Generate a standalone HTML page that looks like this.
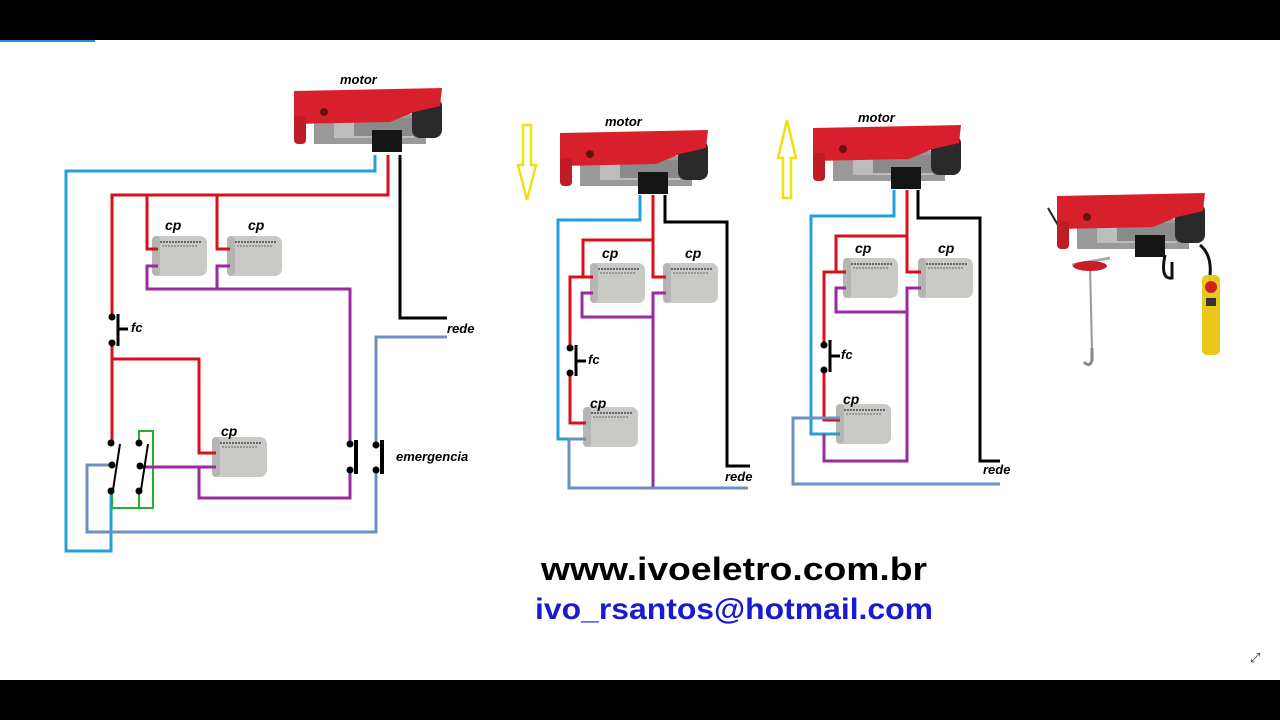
<!DOCTYPE html>
<html><head><meta charset="utf-8"><style>
html,body{margin:0;padding:0;background:#fff;}
body{width:1280px;height:720px;overflow:hidden;position:relative;font-family:"Liberation Sans",sans-serif;}
</style></head><body>
<svg width="1280" height="720" viewBox="0 0 1280 720" xmlns="http://www.w3.org/2000/svg" style="position:absolute;left:0;top:0">
<defs>
<g id="motor">
 <rect x="20" y="26" width="112" height="30" fill="#9a9a9a"/>
 <rect x="40" y="30" width="80" height="20" fill="#bdbdbd"/>
 <path d="M60 30 L120 30 L120 48 L60 48Z" fill="#8a8a8a"/>
 <rect x="118" y="10" width="30" height="40" rx="8" fill="#2a2a2a"/>
 <path d="M0 3 L148 0 L146 18 L120 24 L96 34 L0 36Z" fill="#d8202c"/>
 <rect x="0" y="28" width="12" height="28" rx="4" fill="#c01c26"/>
 <rect x="78" y="42" width="30" height="22" fill="#151515"/>
 <circle cx="30" cy="24" r="4" fill="#6a1010"/>
</g>
<g id="cap">
 <rect x="0" y="0" width="55" height="40" rx="7" fill="#c9c9c5"/>
 <rect x="0" y="0" width="8" height="40" rx="4" fill="#b5b5b1"/>
 <line x1="8" y1="6" x2="50" y2="6" stroke="#666" stroke-width="2" stroke-dasharray="2 1"/>
 <line x1="10" y1="10" x2="46" y2="10" stroke="#888" stroke-width="1.5" stroke-dasharray="2 1"/>
</g>
</defs>
<rect x="0" y="0" width="1280" height="40" fill="#000"/>
<rect x="0" y="680" width="1280" height="40" fill="#000"/>
<rect x="0" y="40" width="95" height="2" fill="#2a8ad8"/>

<g fill="none" stroke-width="3" stroke-linejoin="miter">
<!-- LEFT -->
<use href="#motor" x="294" y="88"/>
<use href="#cap" x="152" y="236"/>
<use href="#cap" x="227" y="236"/>
<use href="#cap" x="212" y="437"/>
<polyline points="375,155 375,171 66,171 66,551 111,551 111,491" stroke="#22a0d8"/>
<polyline points="388,155 388,195 112,195 112,318" stroke="#d8101c"/>
<polyline points="147,195 147,249 158,249" stroke="#d8101c"/>
<polyline points="217,195 217,249 230,249" stroke="#d8101c"/>
<polyline points="158,266 147,266 147,289 350,289 350,444" stroke="#9a2aa0"/>
<polyline points="230,266 217,266 217,289" stroke="#9a2aa0"/>
<polyline points="400,155 400,318 447,318" stroke="#000"/>
<polyline points="447,337 376,337 376,445" stroke="#6f8fc0"/>
<polyline points="376,470 376,532 87,532 87,465 112,465" stroke="#6f8fc0"/>
<polyline points="112,345 112,443" stroke="#d8101c"/>
<polyline points="112,359 199,359 199,453 216,453" stroke="#d8101c"/>
<polyline points="139,443 139,431 153,431 153,508 112,508 112,491" stroke="#22b030" stroke-width="2"/>
<polyline points="139,491 139,508" stroke="#22b030" stroke-width="2"/>
<polyline points="140,467 216,467" stroke="#9a2aa0"/>
<polyline points="199,467 199,498 350,498 350,470" stroke="#9a2aa0"/>
<g stroke="#000">
 <line x1="118" y1="314" x2="118" y2="346"/><line x1="118" y1="329" x2="128" y2="329"/>
 <line x1="356" y1="440" x2="356" y2="474" stroke-width="4"/><line x1="382" y1="440" x2="382" y2="474" stroke-width="4"/>
 <line x1="113" y1="490" x2="120" y2="444" stroke-width="2"/>
 <line x1="141" y1="490" x2="148" y2="444" stroke-width="2"/>
</g>

<!-- MIDDLE -->
<use href="#motor" x="560" y="130"/>
<use href="#cap" x="590" y="263"/>
<use href="#cap" x="663" y="263"/>
<use href="#cap" x="583" y="407"/>
<polyline points="640,195 640,220 558,220 558,439 585,439" stroke="#22a0d8"/>
<polyline points="653,195 653,240 583,240 583,277 593,277" stroke="#d8101c"/>
<polyline points="653,240 653,277 666,277" stroke="#d8101c"/>
<polyline points="593,277 570,277 570,348" stroke="#d8101c"/>
<polyline points="570,373 570,423 586,423" stroke="#d8101c"/>
<polyline points="593,293 582,293 582,317 653,317" stroke="#9a2aa0"/>
<polyline points="666,293 653,293 653,488" stroke="#9a2aa0"/>
<polyline points="665,195 665,222 727,222 727,466 750,466" stroke="#000"/>
<polyline points="586,439 569,439 569,488 748,488" stroke="#6f8fc0"/>
<g stroke="#000"><line x1="576" y1="345" x2="576" y2="376"/><line x1="576" y1="361" x2="586" y2="361"/></g>
<path d="M523 125 H531 V165 H536 L527 200 L518 165 H523Z" fill="#fff" stroke="#f0e010" stroke-width="2.5"/>

<!-- RIGHT -->
<use href="#motor" x="813" y="125"/>
<use href="#cap" x="843" y="258"/>
<use href="#cap" x="918" y="258"/>
<use href="#cap" x="836" y="404"/>
<polyline points="894,190 894,216 811,216 811,434 840,434" stroke="#22a0d8"/>
<polyline points="907,190 907,236 836,236 836,272 846,272" stroke="#d8101c"/>
<polyline points="907,236 907,272 921,272" stroke="#d8101c"/>
<polyline points="846,272 824,272 824,345" stroke="#d8101c"/>
<polyline points="824,370 824,420 840,420" stroke="#d8101c"/>
<polyline points="846,288 836,288 836,312 907,312" stroke="#9a2aa0"/>
<polyline points="921,288 907,288 907,461 824,461 824,434" stroke="#9a2aa0"/>
<polyline points="918,190 918,218 980,218 980,461 1000,461" stroke="#000"/>
<polyline points="840,418 793,418 793,484 1000,484" stroke="#6f8fc0"/>
<g stroke="#000"><line x1="830" y1="340" x2="830" y2="372"/><line x1="830" y1="356" x2="840" y2="356"/></g>
<path d="M783 198 H791 V158 H796 L787 120 L778 158 H783Z" fill="#fff" stroke="#f0e010" stroke-width="2.5"/>

<!-- FAR RIGHT hoist -->
<path d="M1048 208 L1062 232" stroke="#222" stroke-width="2"/>
<use href="#motor" x="1057" y="193"/>
<path d="M1165 255 Q1160 280 1172 278 L1172 262" stroke="#111" stroke-width="3"/>
<path d="M1200 245 Q1212 255 1210 275" stroke="#111" stroke-width="3"/>
<line x1="1090" y1="265" x2="1092" y2="350" stroke="#999" stroke-width="2"/>
<line x1="1072" y1="265" x2="1110" y2="258" stroke="#aaa" stroke-width="3"/>
<ellipse cx="1090" cy="266" rx="17" ry="5" fill="#c81c2c" stroke="none"/>
<path d="M1092 348 L1092 360 Q1090 368 1084 362" stroke="#888" stroke-width="3"/>
<rect x="1202" y="275" width="18" height="80" rx="5" fill="#e8c818" stroke="none"/>
<circle cx="1211" cy="287" r="6" fill="#d02020" stroke="none"/>
<rect x="1206" y="298" width="10" height="8" fill="#333" stroke="none"/>
</g>

<g font-family="Liberation Sans, sans-serif" font-weight="bold" font-style="italic" font-size="13" fill="#000">
<text x="340" y="84">motor</text>
<text x="605" y="126">motor</text>
<text x="858" y="122">motor</text>
<text x="165" y="230" font-size="14">cp</text>
<text x="248" y="230" font-size="14">cp</text>
<text x="221" y="436" font-size="14">cp</text>
<text x="602" y="258" font-size="14">cp</text>
<text x="685" y="258" font-size="14">cp</text>
<text x="590" y="408" font-size="14">cp</text>
<text x="855" y="253" font-size="14">cp</text>
<text x="938" y="253" font-size="14">cp</text>
<text x="843" y="404" font-size="14">cp</text>
<text x="131" y="332">fc</text>
<text x="588" y="364">fc</text>
<text x="841" y="359">fc</text>
<text x="447" y="333">rede</text>
<text x="725" y="481">rede</text>
<text x="983" y="474">rede</text>
<text x="396" y="461">emergencia</text>
</g>
<g fill="#000"><circle cx="112" cy="317" r="3.5"/><circle cx="112" cy="343" r="3.5"/>
<circle cx="111" cy="443" r="3.5"/><circle cx="112" cy="465" r="3.5"/><circle cx="111" cy="491" r="3.5"/>
<circle cx="139" cy="443" r="3.5"/><circle cx="140" cy="466" r="3.5"/><circle cx="139" cy="491" r="3.5"/>
<circle cx="350" cy="444" r="3.5"/><circle cx="350" cy="470" r="3.5"/><circle cx="376" cy="445" r="3.5"/><circle cx="376" cy="470" r="3.5"/>
<circle cx="570" cy="348" r="3.5"/><circle cx="570" cy="373" r="3.5"/>
<circle cx="824" cy="345" r="3.5"/><circle cx="824" cy="370" r="3.5"/></g>
<text x="734" y="580" text-anchor="middle" font-family="Liberation Sans, sans-serif" font-weight="bold" font-size="32" textLength="386" lengthAdjust="spacingAndGlyphs" fill="#000">www.ivoeletro.com.br</text>
<text x="734" y="619" text-anchor="middle" font-family="Liberation Sans, sans-serif" font-weight="bold" font-size="30" textLength="398" lengthAdjust="spacingAndGlyphs" fill="#1a1ad0">ivo_rsantos@hotmail.com</text>
<text x="1250" y="662" font-family="DejaVu Sans, sans-serif" font-size="13" fill="#333">⤢</text>
</svg>
</body></html>
